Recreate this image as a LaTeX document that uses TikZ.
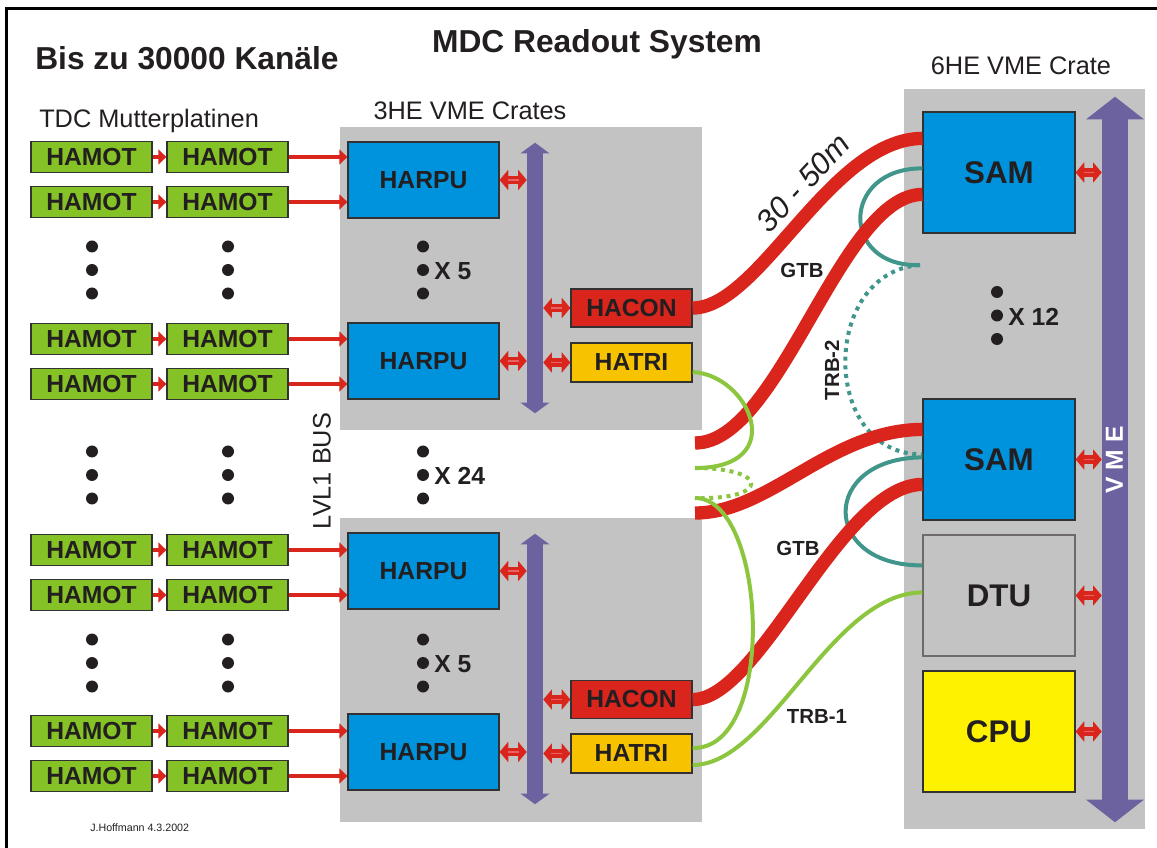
\documentclass[tikz,border=0pt]{standalone}
\usepackage{fontspec}
\setmainfont{Liberation Sans}
\usetikzlibrary{arrows.meta,calc}

\definecolor{textdark}{RGB}{35,31,32}
\definecolor{boxedge}{RGB}{50,50,50}
\definecolor{hamotgreen}{RGB}{133,194,38}
\definecolor{harpublue}{RGB}{0,147,221}
\definecolor{crategray}{RGB}{195,195,195}
\definecolor{cablered}{RGB}{218,37,29}
\definecolor{hatriorange}{RGB}{247,195,0}
\definecolor{cpuyellow}{RGB}{255,242,0}
\definecolor{buspurple}{RGB}{109,98,160}
\definecolor{trbteal}{RGB}{64,150,138}
\definecolor{trbgreen}{RGB}{140,198,63}
\definecolor{linkpink}{RGB}{232,100,100}
\definecolor{dtuedge}{RGB}{110,106,106}

\newcommand\setfs[1]{\fontsize{#1}{#1}\selectfont}

% three stacked dots meaning "and more of the same"
\newcommand\moredots[2]{%
  \foreach \dy in {-23.5,0,23.5} \fill[textdark] (#1,#2+\dy) circle[radius=4.5pt];}

% bidirectional bus connection: red double arrow with a light centre stripe
\newcommand\duplexlink[2]{%
  \draw[duplex] (#1) -- (#2);
  \draw[duplexhl] (#1) -- (#2);}

% arrow heads at both ends of a bus shaft node
\newcommand\busheads[3]{%
  \fill[buspurple] ([xshift=-#2,yshift=-0.5pt]#1.north) -- ([yshift=#3]#1.north) -- ([xshift=#2,yshift=-0.5pt]#1.north) -- cycle;
  \fill[buspurple] ([xshift=-#2,yshift=0.5pt]#1.south) -- ([yshift=-#3]#1.south) -- ([xshift=#2,yshift=0.5pt]#1.south) -- cycle;}

\begin{document}
\begin{tikzpicture}[x=0.75pt,y=-0.75pt,
  blk/.style={draw=boxedge, line width=0.9pt, inner sep=0pt, text=textdark,
    font=\bfseries\setfs{18.5}},
  hamot/.style={blk, fill=hamotgreen, minimum width=90.75pt, minimum height=23.25pt},
  harpu/.style={blk, fill=harpublue, minimum width=113.25pt, minimum height=57pt},
  hacon/.style={blk, fill=cablered, minimum width=90.75pt, minimum height=28.5pt},
  hatri/.style={blk, fill=hatriorange, minimum width=90.75pt, minimum height=29.25pt},
  sixhe/.style={blk, minimum width=114pt, minimum height=90.75pt, font=\bfseries\setfs{23.5}},
  crate/.style={fill=crategray, inner sep=0pt},
  shaft/.style={fill=buspurple, inner sep=0pt},
  feed/.style={draw=cablered, line width=2.8pt, -{Triangle[length=6pt,width=11pt]}},
  duplex/.style={draw=cablered, line width=6.5pt,
    {Triangle[length=6.5pt,width=15pt]}-{Triangle[length=6.5pt,width=15pt]}},
  duplexhl/.style={draw=linkpink, line width=1.3pt, shorten <=6pt, shorten >=6pt},
  gtb/.style={draw=cablered, line width=10pt},
  trbone/.style={draw=trbgreen, line width=3pt},
  trbtwo/.style={draw=trbteal, line width=3pt},
  spare/.style={dash pattern=on 3pt off 3.5pt},
  cablelabel/.style={text=textdark, font=\bfseries\setfs{15.3}, inner sep=0pt},
  heading/.style={text=textdark, inner sep=0pt, font=\setfs{19}},
  count/.style={text=textdark, inner sep=0pt, anchor=west, font=\bfseries\setfs{18.5}}
]
\useasboundingbox (0,0) rectangle (1157,848);
\fill[white] (0,0) rectangle (1157,848);

% page frame
\draw[line width=2.2pt, line join=miter] (6.5,848) -- (6.5,8.5) -- (1157,8.5);

% headings
\node[text=textdark, inner sep=0pt, anchor=base, font=\bfseries\setfs{23.8}] (title) at (597,53) {MDC Readout System};
\node[text=textdark, inner sep=0pt, anchor=base west, font=\bfseries\setfs{23.8}] (channels) at (35,70) {Bis zu 30000 Kanäle};
\node[heading, anchor=base west] (tdc) at (39,128) {TDC Mutterplatinen};
\node[heading, anchor=base] (crlabel) at (470,120) {3HE VME Crates};
\node[heading, anchor=base] (sixlabel) at (1021,75) {6HE VME Crate};
\node[heading, rotate=90] (lvl1) at (322,471) {LVL1 BUS};
\node[text=textdark, inner sep=0pt, anchor=base west, font=\setfs{8}] (author) at (90,831) {J.Hoffmann 4.3.2002};

% crates
\node[crate, minimum width=271.5pt, minimum height=227.25pt] (crateA) at (521,278.5) {};
\node[crate, minimum width=271.5pt, minimum height=228pt] (crateB) at (521,670) {};
\node[crate, minimum width=180.75pt, minimum height=555pt] (crateC) at (1024.5,459) {};

% readout boards in the 3HE crates
\node[harpu] (harpu1) at (423.5,180) {HARPU};
\node[harpu] (harpu2) at (423.5,361) {HARPU};
\node[harpu] (harpu3) at (423.5,571) {HARPU};
\node[harpu] (harpu4) at (423.5,752) {HARPU};
\node[hacon] (haconA) at (631.5,308) {HACON};
\node[hatri] (hatriA) at (631.5,362.5) {HATRI};
\node[hacon] (haconB) at (631.5,699.5) {HACON};
\node[hatri] (hatriB) at (631.5,753.5) {HATRI};

% crate buses
\node[shaft, minimum width=12pt, minimum height=187.5pt] (busA) at (535,278) {};
\node[shaft, minimum width=12pt, minimum height=187.5pt] (busB) at (535,669) {};
\busheads{busA}{10.9pt}{7.5pt}
\busheads{busB}{10.9pt}{7.5pt}

% modules in the 6HE crate
\node[sixhe, fill=harpublue] (sam1) at (999,172.5) {SAM};
\node[sixhe, fill=harpublue] (sam2) at (999,459.5) {SAM};
\node[sixhe, fill=crategray, draw=dtuedge] (dtu) at (999,595.5) {DTU};
\node[sixhe, fill=cpuyellow] (cpu) at (999,731.5) {CPU};

% VME backplane
\node[shaft, minimum width=19.5pt, minimum height=510.75pt] (vme) at (1115,459.5) {};
\busheads{vme}{21.75pt}{16.5pt}
\node[rotate=90, text=white, inner sep=0pt, font=\bfseries\setfs{18.5}] (vmelabel) at (1114.5,460) {V M E};

% TDC mother boards and their links
\foreach \r/\y/\h in {1/157/harpu1,2/202/harpu1,3/339/harpu2,4/384/harpu2,
                      5/550/harpu3,6/595/harpu3,7/731/harpu4,8/776/harpu4} {
  \node[hamot] (ha\r) at (91.5,\y) {HAMOT};
  \node[hamot] (hb\r) at (227.5,\y) {HAMOT};
  \draw[feed] (ha\r.east) -- (hb\r.west);
  \draw[feed] (hb\r.east) -- (hb\r.east -| \h.west);
}

% repetition marks
\moredots{92}{270}
\moredots{228}{270}
\moredots{92}{475}
\moredots{228}{475}
\moredots{92}{663}
\moredots{228}{663}
\moredots{423}{270}
\moredots{423}{475}
\moredots{423}{663}
\moredots{997}{315.5}
\node[count] (xfiveA) at (434,271) {X 5};
\node[count] (xtf) at (434,476) {X 24};
\node[count] (xfiveB) at (434,664) {X 5};
\node[count] (xtwelve) at (1008,317) {X 12};

% bus connections
\duplexlink{harpu1.east}{harpu1.east -| busA.west}
\duplexlink{harpu2.east}{harpu2.east -| busA.west}
\duplexlink{busA.east |- haconA.west}{haconA.west}
\duplexlink{busA.east |- hatriA.west}{hatriA.west}
\duplexlink{harpu3.east}{harpu3.east -| busB.west}
\duplexlink{harpu4.east}{harpu4.east -| busB.west}
\duplexlink{busB.east |- haconB.west}{haconB.west}
\duplexlink{busB.east |- hatriB.west}{hatriB.west}
\duplexlink{sam1.east}{sam1.east -| vme.west}
\duplexlink{sam2.east}{sam2.east -| vme.west}
\duplexlink{dtu.east}{dtu.east -| vme.west}
\duplexlink{cpu.east}{cpu.east -| vme.west}

% loose cable ends from the other crates
\coordinate (stubA) at (695,443);
\coordinate (stubB) at (695,513);
\coordinate (trbA) at (695,468);
\coordinate (trbB) at (695,498);
\coordinate (tealend) at (920,265);

% TRB-2 trigger bus between the SAMs and the DTU
\draw[trbtwo] ($(sam1.north west)+(0,57)$) .. controls (840,168) and (840,268) .. (tealend);
\draw[trbtwo, spare] (tealend) .. controls (820,272) and (820,455) .. ($(sam2.north west)+(0,56)$);
\draw[trbtwo] ($(sam2.north west)+(0,59)$) .. controls (820,458) and (820,566) .. ($(dtu.north west)+(0,31)$);

% GTB cables
\draw[gtb] (haconA.east) .. controls (760,308) and (830,139) .. ($(sam1.north west)+(0,27)$);
\draw[gtb] (stubA) .. controls (780,443) and (840,195) .. ($(sam1.north west)+(0,83)$);
\draw[gtb] (stubB) .. controls (770,513) and (830,430) .. ($(sam2.north west)+(0,31)$);
\draw[gtb] (haconB.east) .. controls (760,700) and (840,485) .. ($(sam2.north west)+(0,86)$);

% TRB-1 trigger chain through the HATRIs
\draw[trbone] ($(hatriA.east)+(0,9.5)$) .. controls (750,375) and (790,468) .. (trbA);
\draw[trbone, spare] (trbA) .. controls (770,468) and (770,500) .. (trbB);
\draw[trbone] (trbB) .. controls (767,498) and (778,750) .. ($(hatriB.east)+(0,-5.5)$);
\draw[trbone] ($(hatriB.east)+(0,11.5)$) .. controls (770,765) and (830,593) .. ($(dtu.north west)+(0,58)$);

% cable labels
\node[text=textdark, inner sep=0pt, rotate=47, font=\itshape\setfs{23}] (length) at (803,183) {30 - 50m};
\node[cablelabel] (gtbA) at (802,270) {GTB};
\node[cablelabel] (gtbB) at (798,548) {GTB};
\node[cablelabel, rotate=90] (trbtwolabel) at (832,370) {TRB-2};
\node[cablelabel] (trbonelabel) at (817,716) {TRB-1};
\end{tikzpicture}
\end{document}
